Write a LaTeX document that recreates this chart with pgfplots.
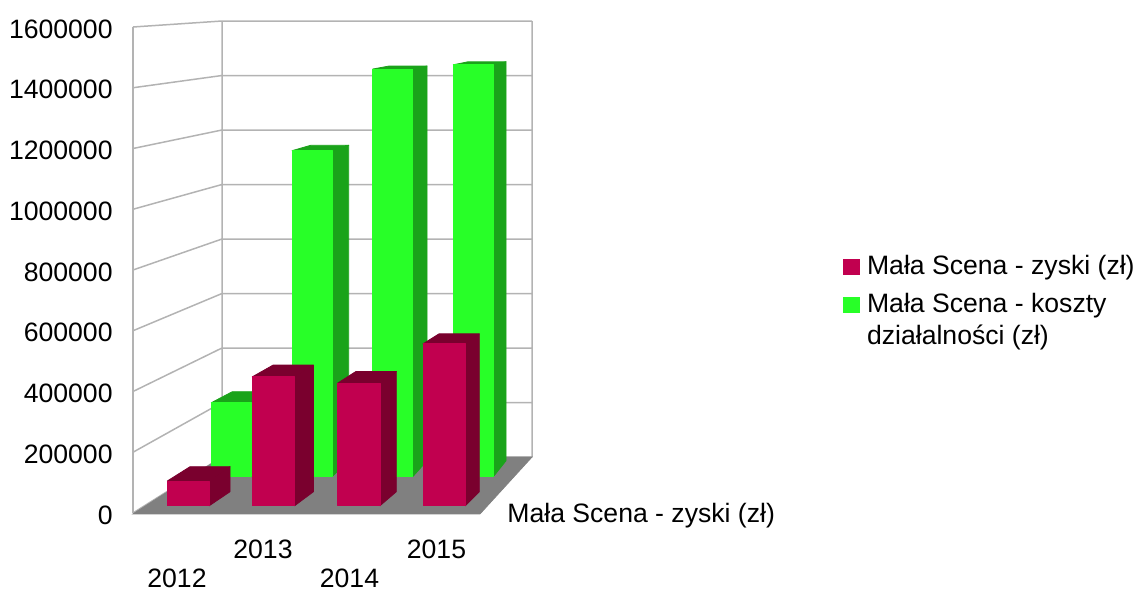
\documentclass[border=0pt]{standalone}
\usepackage{pgfplots}
\pgfplotsset{compat=1.18}
\usepackage{fontspec}
\setmainfont{Liberation Sans}

\definecolor{redfront}{HTML}{C1004F}
\definecolor{redside}{HTML}{7A002E}
\definecolor{greenfront}{HTML}{28FF28}
\definecolor{greenside}{HTML}{1AA31A}
\definecolor{wallgrid}{HTML}{B3B3B3}
\definecolor{floorgrey}{HTML}{808080}

% xl, xr, side dx, side dy at the floor, side dy at the top, value in thousands, colour prefix
% \basepy and \pxperk are set per series (bars stand on different depth planes)
\newcommand{\drawbar}[7]{%
  \pgfmathsetmacro\xc{#2+#3}%
  \pgfmathsetmacro\xd{#1+#3+2}%
  \pgfmathsetmacro\yb{(513-\basepy)*3.29218}%
  \pgfmathsetmacro\yt{\yb+#6*\pxperk*3.29218}%
  \pgfmathsetmacro\ybb{\yb+#4*3.29218}%
  \pgfmathsetmacro\ytb{\yt+#5*3.29218}%
  \addplot[fill=#7side,draw=#7side,line join=round,forget plot] coordinates {(#2,\yb e3)(\xc,\ybb e3)(\xc,\ytb e3)(#2,\yt e3)} -- cycle;
  \addplot[fill=#7side,draw=#7side,line join=round,forget plot] coordinates {(#1,\yt e3)(#2,\yt e3)(\xc,\ytb e3)(\xd,\ytb e3)} -- cycle;
  \addplot[fill=#7front,draw=#7front,line join=round,forget plot] coordinates {(#1,\yb e3)(#2,\yb e3)(#2,\yt e3)(#1,\yt e3)} -- cycle;
}

\begin{document}
\begin{tikzpicture}
\useasboundingbox (-66.5pt,-38.5pt) rectangle (502.5pt,256.5pt);
\begin{axis}[
    at={(0pt,0pt)},
    anchor=origin,
    scale only axis,
    width=502.5pt,
    height=243pt,
    xmin=133, xmax=1138,
    ymin=0, ymax=1600000,
    clip=false,
    axis lines*=left,
    x axis line style={draw=none},
    y axis line style={draw=wallgrid,line width=0.75pt},
    unbounded coords=jump,
    major tick length=0pt,
    ytick={0,200000,400000,600000,800000,1000000,1200000,1400000,1600000},
    scaled y ticks=false,
    /pgf/number format/fixed,
    /pgf/number format/1000 sep={},
    /pgf/number format/assume math mode=true,
    xtick={177,263,349.5,436.5},
    xticklabels={{{}\\[8.5pt]2012},2013,{{}\\[8.5pt]2014},2015},
    x tick label style={align=center,yshift=-13.5pt},
    y tick label style={xshift=-10pt,yshift=-1pt},
    tick label style={font=\fontsize{13.3}{15}\selectfont,inner sep=0pt},
    legend style={
      at={(axis cs:834,862500)},anchor=north west,
      draw=none,fill=none,
      font=\fontsize{13.3}{15}\selectfont,
      legend cell align=left,
      /tikz/every odd column/.append style={column sep=2pt},
      /tikz/row 1/.style={row sep=4pt},
      /tikz/row 2/.style={row sep=0.5pt},
      inner sep=0pt,
    },
]
% walls
\addplot[wallgrid,line width=0.75pt,forget plot] coordinates {
  (133,0)(222,184362)(532,184362)
  (133,nan)
  (133,200000)(222,363786)(532,363786)
  (133,nan)
  (133,400000)(222,543210)(532,543210)
  (133,nan)
  (133,600000)(222,722634)(532,722634)
  (133,nan)
  (133,800000)(222,902057)(532,902057)
  (133,nan)
  (133,1000000)(222,1081481)(532,1081481)
  (133,nan)
  (133,1200000)(222,1260905)(532,1260905)
  (133,nan)
  (133,1400000)(222,1440329)(532,1440329)
  (133,nan)
  (133,1600000)(222,1619753)(532,1619753)
  (133,nan)
  (222,184362)(222,1619753)
  (133,nan)
  (532,184362)(532,1619753)
};
% floor
\addplot[fill=floorgrey,draw=floorgrey,forget plot] coordinates {(133,-3000)(480,-3000)(532,184362)(222,184362)} -- cycle;

% Mała Scena - koszty działalności
\def\basepy{476.7}\def\pxperk{0.2835}
\drawbar{211.3}{251.3}{19}{16}{11}{261}{green}
\drawbar{292}{332}{16.7}{16}{5.4}{1150}{green}
\drawbar{372.7}{412.7}{14.3}{16}{3}{1438}{green}
\drawbar{453.3}{493.3}{12.7}{16}{3}{1453}{green}

% Mała Scena - zyski
\def\basepy{505.7}\def\pxperk{0.2997}
\drawbar{167.3}{209.3}{20.7}{14}{14.3}{82.4}{red}
\drawbar{252.3}{294.7}{18.7}{14}{11.7}{430}{red}
\drawbar{337.7}{380}{16.3}{14}{11.7}{409}{red}
\drawbar{423}{465.3}{14}{14}{10}{540}{red}

\addlegendimage{only marks,mark=square*,mark size=3.8pt,mark options={draw=redfront,fill=redfront}}
\addlegendimage{only marks,mark=square*,mark size=3.8pt,mark options={draw=greenfront,fill=greenfront}}
\addlegendimage{empty legend}
\legend{Mała Scena - zyski (zł),Mała Scena - koszty,działalności (zł)}

\node[anchor=base west,inner sep=0pt,font=\fontsize{13.3}{15}\selectfont] at (axis cs:507,-29600) {Mała Scena - zyski (zł)};
\end{axis}
\end{tikzpicture}
\end{document}
